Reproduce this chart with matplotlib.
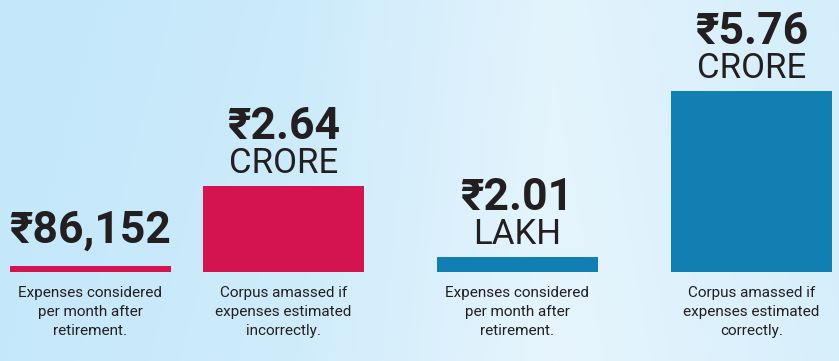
import numpy as np
import matplotlib
matplotlib.use("Agg")
import matplotlib.pyplot as plt
from matplotlib.colors import LinearSegmentedColormap

# Data
value_labels = ["₹86,152", "₹2.64", "₹2.01", "₹5.76"]
unit_labels = ["", "CRORE", "LAKH", "CRORE"]
bar_heights = [6, 86, 15, 181]  # drawn heights (not to scale with the values)
captions = [
    "Expenses considered\nper month after\nretirement.",
    "Corpus amassed if\nexpenses estimated\nincorrectly.",
    "Expenses considered\nper month after\nretirement.",
    "Corpus amassed if\nexpenses estimated\ncorrectly.",
]

# Layout / style
W, H = 839, 361
BASE = 272  # bar baseline from top, px
centers = [90, 283.5, 517, 751.5]
bar_width = 161
bar_colors = ["#d41450", "#d41450", "#127fb2", "#127fb2"]
TEXT = "#231f20"
VALUE_FONT = ["Roboto", "DejaVu Sans"]

fig = plt.figure(figsize=(W / 100, H / 100), dpi=100)

# light blue background gradient
bg = fig.add_axes([0, 0, 1, 1])
xs = np.linspace(0, 1, 400)
ys = np.linspace(0, 1, 200)
gx = np.interp(xs, [0.0, 0.35, 0.66, 1.0], [0.0, 0.3, 1.0, 0.55])
gy = np.interp(ys, [0.0, 1.0], [0.1, 0.0])
grid = np.clip(gx[None, :] - gy[:, None], 0, 1)
cmap = LinearSegmentedColormap.from_list("bg", ["#c5e8fa", "#e6f5fd"])
bg.imshow(grid, cmap=cmap, aspect="auto", extent=[0, 1, 0, 1], origin="upper")
bg.set_axis_off()

ax = fig.add_axes([0, (H - BASE) / H, 1, BASE / H])
ax.set_xlim(0, W)
ax.set_ylim(0, BASE)
ax.set_axis_off()
ax.patch.set_alpha(0)

ax.bar(centers, bar_heights, width=bar_width, color=bar_colors, linewidth=0)

for x, h, val, unit, cap in zip(centers, bar_heights, value_labels, unit_labels, captions):
    if unit:
        ax.annotate(unit, xy=(x, h), xytext=(0, 13), textcoords="offset pixels",
                    ha="center", va="baseline", fontsize=25, color=TEXT,
                    family=VALUE_FONT)
        val_off = 47
    else:
        val_off = 23
    ax.annotate(val, xy=(x, h), xytext=(0, val_off), textcoords="offset pixels",
                ha="center", va="baseline", fontsize=32, color=TEXT,
                family=VALUE_FONT, fontweight="bold")
    ax.annotate(cap, xy=(x, 0), xytext=(0, -14), textcoords="offset pixels",
                ha="center", va="top", fontsize=11, color=TEXT,
                family=VALUE_FONT, linespacing=1.45, annotation_clip=False)

fig.savefig("out.png", dpi=100)
